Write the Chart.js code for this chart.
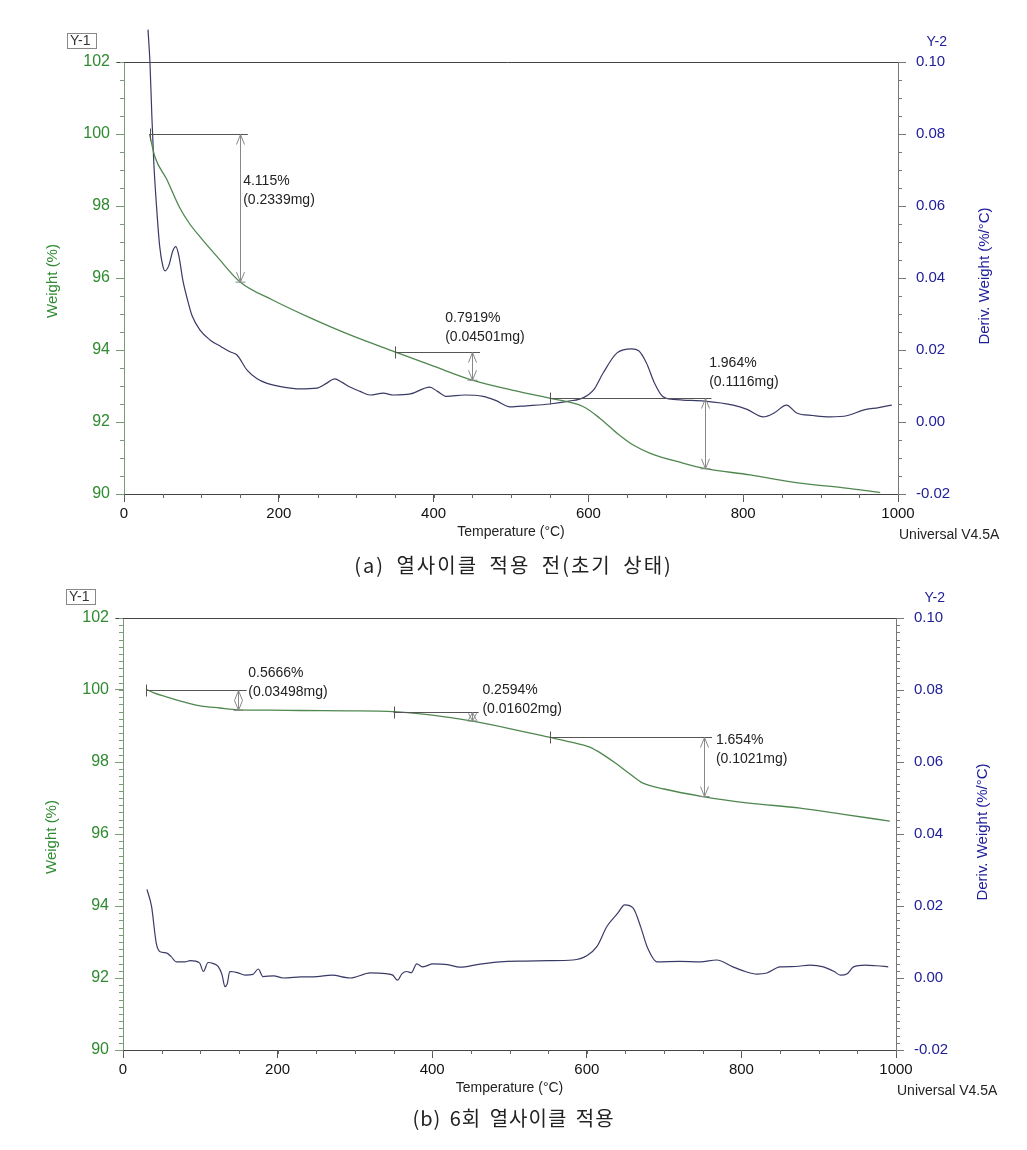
<!DOCTYPE html>
<html>
<head>
<meta charset="utf-8">
<script src="https://cdn.jsdelivr.net/npm/chart.js@4"></script>
<style>
  body { margin: 0; background: #fff; }
  #wrap { position: relative; width: 1027px; height: 1150px; }
  canvas { position: absolute; left: 0; }
  .cap {
    position: absolute; left: 0; width: 1027px; text-align: center;
    font-family: 'Noto Sans CJK KR', sans-serif; font-size: 20px; line-height: 28px; color: #222;
  }
</style>
</head>
<body>
<div id="wrap">
  <canvas id="chartA" width="1027" height="575" style="top:0"></canvas>
  <canvas id="chartB" width="1027" height="575" style="top:575px"></canvas>
  <div class="cap" style="top:551px; letter-spacing:2px; word-spacing:5px">(a) 열사이클 적용 전(초기 상태)</div>
  <div class="cap" style="top:1104px; letter-spacing:1px; word-spacing:3px">(b) 6회 열사이클 적용</div>
</div>
<script>
/* tick labels */
const xTicks = [0, 200, 400, 600, 800, 1000];
const weightTicks = [90, 92, 94, 96, 98, 100, 102];
const derivTicks = [-0.02, 0, 0.02, 0.04, 0.06, 0.08, 0.10];

/* (a) before thermal cycling */
const tempWA = [33, 40, 55, 72, 85, 98, 120, 150, 192, 240, 292, 350, 400, 450, 500, 550, 593, 615, 637, 658, 680, 722, 750, 809, 873, 930, 977];
const weightA = [100.0, 99.36, 98.75, 97.95, 97.5, 97.15, 96.6, 95.89, 95.39, 94.9, 94.42, 93.95, 93.55, 93.16, 92.89, 92.66, 92.43, 92.1, 91.69, 91.36, 91.13, 90.86, 90.71, 90.53, 90.3, 90.17, 90.04];
const tempDA = [31, 33.5, 36, 38.5, 42, 46, 50, 53, 58, 63, 67, 71, 76, 82, 88, 98, 111, 125, 137, 146, 159, 172, 184, 206, 227, 249, 262, 272, 282, 292, 305, 318, 335, 348, 370, 395, 405, 417, 440, 464, 480, 499, 520, 550, 575, 593, 607, 619, 637, 656, 665, 675, 685, 696, 710, 722, 750, 787, 805, 826, 840, 856, 869, 890, 912, 935, 955, 975, 992];
const derivA = [0.109, 0.10, 0.085, 0.072, 0.060, 0.049, 0.0435, 0.042, 0.0435, 0.0475, 0.0487, 0.046, 0.0394, 0.034, 0.0295, 0.0256, 0.0228, 0.021, 0.0195, 0.0186, 0.0144, 0.012, 0.0108, 0.0097, 0.0092, 0.0094, 0.0108, 0.012, 0.011, 0.0097, 0.0085, 0.0075, 0.008, 0.0075, 0.0078, 0.0097, 0.0085, 0.0071, 0.0075, 0.0071, 0.006, 0.0042, 0.0045, 0.005, 0.0058, 0.0067, 0.009, 0.0136, 0.0192, 0.0203, 0.0198, 0.0164, 0.011, 0.0071, 0.0063, 0.0061, 0.0058, 0.0047, 0.0035, 0.0014, 0.0025, 0.0047, 0.0025, 0.0018, 0.0014, 0.0018, 0.0033, 0.004, 0.0047];
const stepsA = [
  { from: 33, to: 160, at: 150, top: 100.0, bottom: 95.885, pct: '4.115%', mg: '(0.2339mg)', textT: 154, textW: 98.69 },
  { from: 350, to: 460, at: 450, top: 93.95, bottom: 93.16, pct: '0.7919%', mg: '(0.04501mg)', textT: 415, textW: 94.89 },
  { from: 550, to: 759, at: 750, top: 92.66, bottom: 90.70, pct: '1.964%', mg: '(0.1116mg)', textT: 756, textW: 93.64 }
];

/* (b) after 6 thermal cycles */
const tempWB = [30, 40, 56, 80, 100, 125, 149, 190, 229, 290, 350, 400, 450, 500, 551, 580, 603, 620, 637, 655, 672, 700, 750, 810, 876, 930, 992];
const weightB = [100.02, 99.92, 99.81, 99.66, 99.56, 99.5, 99.45, 99.44, 99.43, 99.42, 99.4, 99.3, 99.14, 98.93, 98.69, 98.55, 98.42, 98.22, 97.97, 97.68, 97.42, 97.25, 97.04, 96.86, 96.72, 96.55, 96.36];
const tempDB = [31, 37, 43, 48, 56, 62, 69, 80, 87, 99, 104, 110, 117, 123, 128, 132, 135, 138, 148, 158, 168, 175, 181, 195, 207, 230, 251, 270, 294, 320, 340, 349, 355, 361, 367, 373, 380, 388, 401, 420, 436, 460, 488, 520, 550, 582, 600, 613, 626, 640, 649, 660, 670, 678, 691, 720, 747, 768, 789, 805, 820, 833, 850, 870, 889, 906, 920, 928, 937, 945, 960, 975, 990];
const derivB = [0.0246, 0.0198, 0.0097, 0.0073, 0.007, 0.006, 0.0045, 0.0045, 0.0048, 0.0042, 0.0018, 0.0043, 0.004, 0.0032, 0.001, -0.0024, -0.0015, 0.0018, 0.0015, 0.0008, 0.001, 0.0025, 0.0004, 0.0006, 0.0, 0.0003, 0.0004, 0.0008, 0.0, 0.0014, 0.0012, 0.0008, -0.0006, 0.0012, 0.0018, 0.0015, 0.0039, 0.0031, 0.0039, 0.0037, 0.003, 0.0038, 0.0045, 0.0047, 0.0048, 0.005, 0.0062, 0.0087, 0.0143, 0.018, 0.0203, 0.0194, 0.014, 0.0087, 0.0045, 0.0046, 0.0045, 0.005, 0.0031, 0.0018, 0.0011, 0.0014, 0.0031, 0.0032, 0.0036, 0.0031, 0.0018, 0.0008, 0.0012, 0.0031, 0.0036, 0.0034, 0.0031];
const stepsB = [
  { from: 30, to: 160, at: 149, top: 100.0, bottom: 99.433, pct: '0.5666%', mg: '(0.03498mg)', textT: 162, textW: 100.47 },
  { from: 350, to: 460, at: 451, top: 99.4, bottom: 99.14, pct: '0.2594%', mg: '(0.01602mg)', textT: 465, textW: 100.0 },
  { from: 552, to: 762, at: 752, top: 98.69, bottom: 97.04, pct: '1.654%', mg: '(0.1021mg)', textT: 767, textW: 98.61 }
];

const FONT = "'Liberation Sans', Arial, sans-serif";
const GREEN = '#2f8a30';
const NAVY = '#20209a';

function seg(ctx, x1, y1, x2, y2) {
  ctx.beginPath();
  ctx.moveTo(x1, y1);
  ctx.lineTo(x2, y2);
  ctx.stroke();
}

// frame, minor ticks, step annotations and loose labels
function makeDecor(steps, wMinor, dMinor) {
  return {
    id: 'decor',
    afterDraw(chart) {
      const { ctx, chartArea: a, scales: { x, y, y2 } } = chart;
      ctx.save();
      ctx.lineWidth = 1;

      ctx.strokeStyle = '#444';
      seg(ctx, a.left - 7, a.top + 0.5, a.right, a.top + 0.5);

      // minor ticks
      ctx.strokeStyle = '#666';
      for (let v = x.min; v <= x.max + 1e-6; v += 50) {
        const px = Math.round(x.getPixelForValue(v)) + 0.5;
        seg(ctx, px, a.bottom, px, a.bottom + 4);
      }
      ctx.strokeStyle = '#7a9a7a';
      for (let v = y.min; v <= y.max + 1e-6; v += wMinor) {
        const py = Math.round(y.getPixelForValue(v)) + 0.5;
        seg(ctx, a.left - 4, py, a.left, py);
      }
      ctx.strokeStyle = '#777';
      for (let v = y2.min; v <= y2.max + 1e-9; v += dMinor) {
        const py = Math.round(y2.getPixelForValue(v)) + 0.5;
        seg(ctx, a.right, py, a.right + 4, py);
      }

      // step annotations
      steps.forEach(s => {
        const x0 = x.getPixelForValue(s.from);
        const x1 = x.getPixelForValue(s.to);
        const xa = Math.round(x.getPixelForValue(s.at)) + 0.5;
        const yt = Math.round(y.getPixelForValue(s.top)) + 0.5;
        const yb = y.getPixelForValue(s.bottom);
        ctx.strokeStyle = '#555';
        seg(ctx, x0, yt, x1, yt);
        seg(ctx, Math.round(x0) + 0.5, yt - 6, Math.round(x0) + 0.5, yt + 6);
        ctx.strokeStyle = '#888';
        seg(ctx, xa, yt, xa, yb);
        seg(ctx, xa - 5, yb, xa + 5, yb);
        const h = Math.min(10, (yb - yt) * 0.9);
        ctx.beginPath();
        ctx.moveTo(xa - 4, yt + h); ctx.lineTo(xa, yt); ctx.lineTo(xa + 4, yt + h);
        ctx.moveTo(xa - 4, yb - h); ctx.lineTo(xa, yb); ctx.lineTo(xa + 4, yb - h);
        ctx.stroke();
        ctx.fillStyle = '#222';
        ctx.font = `14px ${FONT}`;
        ctx.textAlign = 'left';
        ctx.textBaseline = 'middle';
        const tx = x.getPixelForValue(s.textT);
        const ty = y.getPixelForValue(s.textW);
        ctx.fillText(s.pct, tx, ty);
        ctx.fillText(s.mg, tx, ty + 19);
      });

      // axis titles and tags
      ctx.textBaseline = 'middle';
      ctx.textAlign = 'center';
      ctx.font = `15px ${FONT}`;
      ctx.fillStyle = GREEN;
      ctx.save();
      ctx.translate(a.left - 71, a.top + 219);
      ctx.rotate(-Math.PI / 2);
      ctx.fillText('Weight (%)', 0, 0);
      ctx.restore();
      ctx.fillStyle = NAVY;
      ctx.save();
      ctx.translate(a.right + 87, a.top + 214);
      ctx.rotate(-Math.PI / 2);
      ctx.fillText('Deriv. Weight (%/°C)', 0, 0);
      ctx.restore();

      ctx.fillStyle = '#222';
      ctx.font = `14px ${FONT}`;
      ctx.fillText('Temperature (°C)', (a.left + a.right) / 2, a.bottom + 38);
      ctx.textAlign = 'left';
      ctx.fillText('Universal V4.5A', a.right + 1, a.bottom + 41);

      ctx.font = `14px ${FONT}`;
      ctx.fillStyle = '#333';
      ctx.fillText('Y-1', a.left - 54, a.top - 21);
      ctx.strokeStyle = '#888';
      ctx.strokeRect(a.left - 56.5, a.top - 28.5, 29, 15);
      ctx.fillStyle = NAVY;
      ctx.textAlign = 'right';
      ctx.fillText('Y-2', a.right + 49, a.top - 20);
      ctx.restore();
    }
  };
}

function makeChart(id, tempW, weight, tempD, deriv, steps, box) {
  const pts = (xs, ys) => xs.map((t, i) => ({ x: t, y: ys[i] }));
  return new Chart(document.getElementById(id), {
    type: 'line',
    data: {
      datasets: [
        {
          label: 'Weight',
          data: pts(tempW, weight),
          yAxisID: 'y',
          borderColor: '#4f874f',
          borderWidth: 1.3,
          pointRadius: 0,
          cubicInterpolationMode: 'monotone'
        },
        {
          label: 'Deriv. Weight',
          data: pts(tempD, deriv),
          yAxisID: 'y2',
          borderColor: '#3a3a66',
          borderWidth: 1.2,
          pointRadius: 0,
          cubicInterpolationMode: 'monotone',
          clip: false
        }
      ]
    },
    options: {
      responsive: false,
      animation: false,
      events: [],
      layout: { padding: { top: box.top, left: 0, right: 0, bottom: 0 } },
      plugins: { legend: { display: false }, tooltip: { enabled: false } },
      scales: {
        x: {
          type: 'linear', min: 0, max: 1000,
          afterBuildTicks: s => { s.ticks = xTicks.map(v => ({ value: v })); },
          afterFit: s => { s.height = box.xh; },
          ticks: { color: '#111', font: { size: 15, family: FONT }, padding: 3, maxRotation: 0, autoSkip: false,
                   callback: v => String(v) },
          grid: { drawOnChartArea: false, tickLength: 8, color: '#555' },
          border: { color: '#444' }
        },
        y: {
          position: 'left', min: 90, max: 102,
          afterBuildTicks: s => { s.ticks = weightTicks.map(v => ({ value: v })); },
          afterFit: s => { s.width = box.left; },
          ticks: { color: GREEN, font: { size: 16, family: FONT }, padding: 6, autoSkip: false },
          grid: { drawOnChartArea: false, tickLength: 8, color: '#7a9a7a' },
          border: { color: '#7a9a7a' }
        },
        y2: {
          position: 'right', min: -0.02, max: 0.10,
          afterBuildTicks: s => { s.ticks = derivTicks.map(v => ({ value: v })); },
          afterFit: s => { s.width = box.right; },
          ticks: { color: NAVY, font: { size: 15, family: FONT }, padding: 10, autoSkip: false,
                   callback: v => v.toFixed(2) },
          grid: { drawOnChartArea: false, tickLength: 8, color: '#777' },
          border: { color: '#777' }
        }
      }
    },
    plugins: [makeDecor(steps, box.wMinor, box.dMinor)]
  });
}

makeChart('chartA', tempWA, weightA, tempDA, derivA, stepsA,
  { top: 62, xh: 81, left: 124, right: 129, wMinor: 0.5, dMinor: 0.005 });
makeChart('chartB', tempWB, weightB, tempDB, derivB, stepsB,
  { top: 43, xh: 100, left: 123, right: 131, wMinor: 0.2, dMinor: 0.002 });
</script>
</body>
</html>
